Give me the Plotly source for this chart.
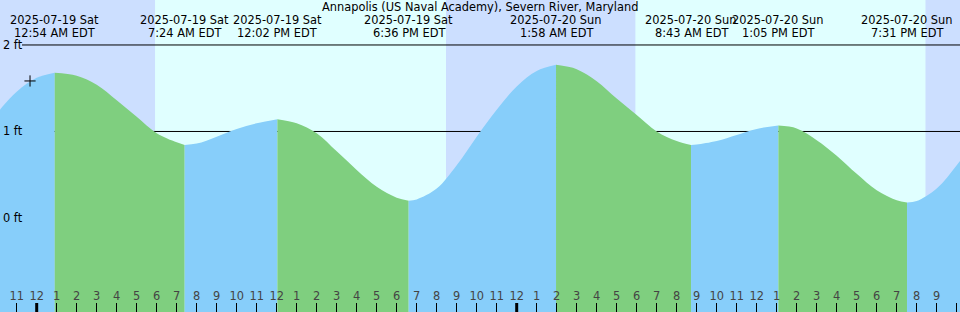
import plotly.graph_objects as go
from datetime import datetime, timedelta

TITLE = "Annapolis (US Naval Academy), Severn River, Maryland"

# hourly tide heights (ft), starting 2025-07-18 22:00 EDT, one per hour
HOURLY_START = "2025-07-18 22:00"
HOURLY_FT = [1.21, 1.46, 1.62, 1.675, 1.645, 1.54, 1.36, 1.17, 0.98, 0.875,
             0.86, 0.94, 1.03, 1.095, 1.14, 1.095, 0.98, 0.77, 0.555, 0.36,
             0.235, 0.215, 0.34, 0.61, 0.94, 1.25, 1.52, 1.70, 1.768, 1.72,
             1.58, 1.38, 1.19, 1.00, 0.89, 0.85, 0.89, 0.96, 1.03, 1.067,
             1.035, 0.90, 0.72, 0.51, 0.32, 0.205, 0.195, 0.34, 0.61, 0.92]

# high / low tides
EXTREME_TIMES = ["2025-07-19 00:54", "2025-07-19 07:24", "2025-07-19 12:02",
                 "2025-07-19 18:36", "2025-07-20 01:58", "2025-07-20 08:43",
                 "2025-07-20 13:05", "2025-07-20 19:31"]
EXTREME_FT = [1.68, 0.845, 1.141, 0.20, 1.77, 0.845, 1.068, 0.18]

# sunrise / sunset
SUNRISE = ["2025-07-19 05:55", "2025-07-20 05:56"]
SUNSET = ["2025-07-19 20:28", "2025-07-20 20:27"]

NOW_TIME = "2025-07-18 23:40"
NOW_FT = 1.584

GRID_FT = [2, 1]
LEVEL_LABELS = ["2 ft", "1 ft", "0 ft"]
LEVEL_VALUES = [2, 1, 0]
MIDNIGHTS = ["2025-07-19 00:00", "2025-07-20 00:00"]

VIEW_START = "2025-07-18 22:09:54"
VIEW_END = "2025-07-20 22:09:54"
Y_RANGE = [-1.087, 2.52]

NIGHT = "#ccdfff"
DAY = "#e0ffff"
RISE = "#87cefa"
FALL = "#7fcf7f"
FONT = "DejaVu Sans"
FS = 11.4

fmt = "%Y-%m-%d %H:%M"
p = lambda s: datetime.strptime(s[:16], fmt)
t0 = p(HOURLY_START)
ext_t = [p(t) for t in EXTREME_TIMES]
pts = []
for i, v in enumerate(HOURLY_FT):
    t = t0 + timedelta(hours=i)
    # skip hourly readings that nearly coincide with a high/low reading
    if min(abs((t - e).total_seconds()) for e in ext_t) < 15 * 60:
        continue
    pts.append((t, v, False))
pts += [(t, v, True) for t, v in zip(ext_t, EXTREME_FT)]
pts.sort(key=lambda a: a[0])

# split into segments at the extremes
segments = []
cur = []
for t, v, ext in pts:
    cur.append((t, v))
    if ext:
        segments.append(cur)
        cur = [(t, v)]
segments.append(cur)

fig = go.Figure()
for si, seg in enumerate(segments):
    xs = [a[0].strftime("%Y-%m-%d %H:%M:%S") for a in seg]
    ys = [a[1] for a in seg]
    rising = ys[-1] > ys[0]
    color = RISE if rising else FALL
    fig.add_trace(go.Scatter(x=xs, y=[-1.5] * len(xs), mode="lines",
                             line=dict(width=0), hoverinfo="skip",
                             showlegend=False))
    fig.add_trace(go.Scatter(x=xs, y=ys, mode="lines",
                             line=dict(width=0, shape="spline", smoothing=1.0,
                                       color=color),
                             fill="tonexty", fillcolor=color,
                             hoverinfo="skip", showlegend=False))

fig.add_trace(go.Scatter(x=[NOW_TIME], y=[NOW_FT], mode="markers",
                         marker=dict(symbol="cross-thin", size=8,
                                     line=dict(width=1, color="black")),
                         hoverinfo="skip", showlegend=False))

shapes = []
bounds = [VIEW_START, SUNRISE[0], SUNSET[0], SUNRISE[1], SUNSET[1], VIEW_END]
for i in range(len(bounds) - 1):
    shapes.append(dict(type="rect", xref="x", yref="paper",
                       x0=bounds[i], x1=bounds[i + 1], y0=0, y1=1,
                       fillcolor=NIGHT if i % 2 == 0 else DAY,
                       line=dict(width=0), layer="below"))
for g in GRID_FT:
    shapes.append(dict(type="line", xref="paper", yref="y",
                       x0=22 / 960, x1=1, y0=g, y1=g,
                       line=dict(color="black", width=1), layer="below"))
for m in MIDNIGHTS:
    shapes.append(dict(type="line", xref="x", yref="paper",
                       x0=m, x1=m, y0=0, y1=9 / 312,
                       line=dict(color="black", width=3), layer="above"))

annotations = [dict(text=TITLE, xref="paper", yref="paper", x=0.5,
                    y=1 - 7 / 312, xanchor="center", yanchor="middle",
                    showarrow=False, font=dict(size=FS, color="black"))]
for t in EXTREME_TIMES:
    d = p(t)
    line1 = d.strftime("%Y-%m-%d %a")
    line2 = d.strftime("%-I:%M %p EDT")
    annotations.append(dict(text=line1, xref="x", yref="paper", x=t,
                            y=1 - 20.5 / 312, xanchor="center", yanchor="middle",
                            showarrow=False, font=dict(size=FS, color="black")))
    annotations.append(dict(text=line2, xref="x", yref="paper", x=t,
                            y=1 - 33 / 312, xanchor="center", yanchor="middle",
                            showarrow=False, font=dict(size=FS, color="black")))
for lab, v in zip(LEVEL_LABELS, LEVEL_VALUES):
    annotations.append(dict(text=lab, xref="paper", yref="y", x=0, y=v,
                            xanchor="left", yanchor="middle", xshift=1,
                            showarrow=False, font=dict(size=FS, color="black")))

fig.update_layout(
    width=960, height=312, margin=dict(l=0, r=0, t=0, b=0),
    paper_bgcolor=NIGHT, plot_bgcolor=NIGHT,
    font=dict(family=FONT, size=FS, color="black"),
    shapes=shapes, annotations=annotations, showlegend=False,
    xaxis=dict(type="date", range=[VIEW_START, VIEW_END], showgrid=False,
               zeroline=False, showline=False, ticks="inside", ticklen=9,
               tickwidth=1, tickcolor="black", dtick=3600000,
               tick0="2025-07-19 00:00", tickformat="%-I",
               ticklabelposition="inside", tickfont=dict(size=FS),
               automargin=False, fixedrange=True),
    yaxis=dict(range=Y_RANGE, showgrid=False, zeroline=False,
               showticklabels=False, showline=False, ticks="",
               automargin=False, fixedrange=True),
)
fig.write_html("out.html")
